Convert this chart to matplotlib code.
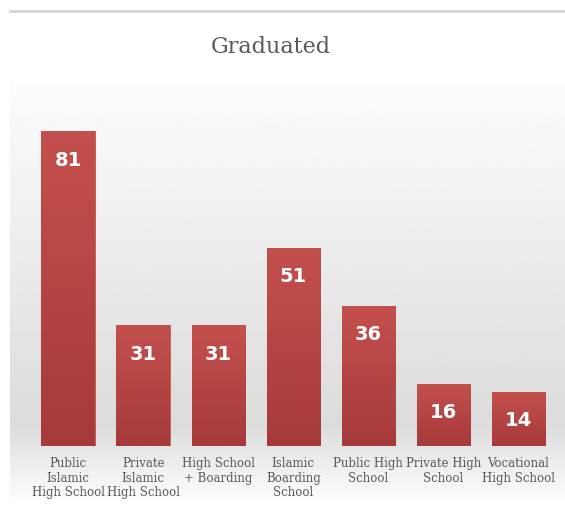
import numpy as np
import matplotlib
matplotlib.use("Agg")
import matplotlib.pyplot as plt
from matplotlib.lines import Line2D
from matplotlib.colors import LinearSegmentedColormap

# data
categories = [
    "Public\nIslamic\nHigh School",
    "Private\nIslamic\nHigh School",
    "High School\n+ Boarding",
    "Islamic\nBoarding\nSchool",
    "Public High\nSchool",
    "Private High\nSchool",
    "Vocational\nHigh School",
]
values = [81, 31, 31, 51, 36, 16, 14]

W, H = 565, 511
fig = plt.figure(figsize=(W / 100, H / 100), dpi=100)
fig.patch.set_facecolor("white")

# background gradient (white -> light grey -> white)
bg = fig.add_axes([10 / W, 6 / H, 555 / W, 430 / H])
bg.set_axis_off()
rows = np.linspace(0, 1, 300)
y_px = 505 - rows * 430  # pixel y from top for each row (row 0 bottom)
g = np.ones_like(rows)
up = (y_px > 80) & (y_px <= 425)
g[up] = 0.99 - (y_px[up] - 80) / 345 * 0.13
down = y_px > 425
g[down] = 0.86 + (y_px[down] - 425) / 80 * 0.14
img = np.repeat(g[:, None], 2, axis=1)
bg.imshow(img, cmap="gray", vmin=0, vmax=1, aspect="auto", origin="lower",
          extent=[0, 1, 0, 1])

# top rule
fig.add_artist(Line2D([10 / W, 1], [1 - 11 / H] * 2, color="#d6d6d6", lw=2))

ax = fig.add_axes([30.5 / W, (H - 446) / H, 525.5 / W, 350 / H])
ax.patch.set_alpha(0)
x = np.arange(len(values))
bars = ax.bar(x, values, width=0.71, color="#b74444", edgecolor="#c25a57", lw=0.6, zorder=3)

# vertical gradient inside each bar
grad = np.linspace(0, 1, 100)[:, None]
cm = LinearSegmentedColormap.from_list("bar", ["#a63a3a", "#c4504d"])
for b in bars:
    x0, w, h = b.get_x(), b.get_width(), b.get_height()
    im = ax.imshow(grad, cmap=cm, aspect="auto", origin="lower",
                   extent=[x0, x0 + w, 0, h], zorder=3)
    im.set_clip_path(b)

for xi, v in zip(x, values):
    ax.annotate(str(v), (xi, v), xytext=(0, -29), textcoords="offset pixels",
                ha="center", va="center", color="white", fontsize=14,
                fontweight="bold", family="DejaVu Sans", zorder=5)

ax.set_xlim(-0.5, len(values) - 0.5)
ax.set_ylim(0, 90)
ax.set_xticks(x)
ax.set_xticklabels(categories, fontsize=8.5, color="#595959", family="DejaVu Serif",
                   linespacing=1.15)
ax.tick_params(axis="x", length=0, pad=8)
ax.set_yticks([])
for s in ax.spines.values():
    s.set_visible(False)

fig.text(271 / W, 1 - 47 / H, "Graduated", ha="center", va="center",
         fontsize=16, color="#595959", family="DejaVu Serif")

fig.savefig("out.png", dpi=100)
